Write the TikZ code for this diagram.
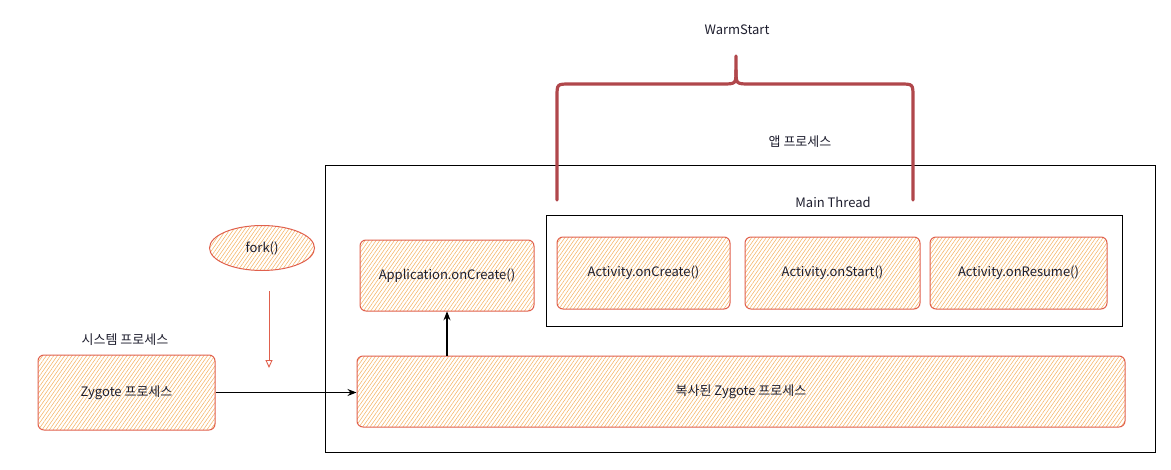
\documentclass[tikz,border=0pt]{standalone}
\usepackage{fontspec}
\setmainfont{Noto Sans CJK KR}
\usepackage{xcolor}
\usepackage{tikz}
\usetikzlibrary{arrows.meta,patterns.meta,shapes.geometric,positioning,calc}

\definecolor{boxred}{HTML}{E0604D}
\definecolor{hatch}{HTML}{F5B465}
\definecolor{bracered}{HTML}{B0474B}
\definecolor{inkblue}{HTML}{1E1E2E}

\begin{document}
\begin{tikzpicture}[
            x=1pt, y=-1pt,
            every node/.style={font=\fontsize{13}{15}\selectfont, text=inkblue},
            proc/.style={draw=boxred, line width=1pt, rounded corners=6pt,
                pattern={Lines[angle=55,distance=3pt,line width=0.55pt]}, pattern color=hatch},
            frame/.style={draw=black, line width=1pt},
            flow/.style={->, >={Stealth[length=9pt,width=7pt]}, line width=1.1pt, black},
        ]
            \useasboundingbox (0,0) rectangle (1171,469);

            % app process + main thread frames
            \node[frame, minimum width=830, minimum height=287] (app) at (740,308.5) {};
            \node (applbl) at (800,142) {앱 프로세스};
            \node[frame, minimum width=576, minimum height=111] (main) at (834,270.5) {};
            \node (mainlbl) at (833,202) {Main Thread};

            % boxes
            \node[proc, minimum width=174, minimum height=71] (appcreate) at (447,275.5) {Application.onCreate()};
            \node[proc, minimum width=173, minimum height=72] (actcreate) at (643.5,273) {Activity.onCreate()};
            \node[proc, minimum width=175, minimum height=72] (actstart) at (832.5,273) {Activity.onStart()};
            \node[proc, minimum width=177, minimum height=72] (actresume) at (1018.5,273) {Activity.onResume()};
            \node[proc, minimum width=768, minimum height=71] (copy) at (741,391.5) {복사된 Zygote 프로세스};
            \node[proc, minimum width=177, minimum height=75] (zygote) at (126.5,392.5) {Zygote 프로세스};
            \node (syslbl) at (125,340) {시스템 프로세스};
            \node[proc, ellipse, minimum width=105, minimum height=45, rounded corners=0pt, inner sep=1pt] (fork) at (262,248) {fork()};

            % arrows
            \coordinate (forkend) at (269,368);
            \draw[->, >={Triangle[open,length=8pt,width=7pt]}, draw=boxred, line width=0.9pt]
                (fork.south -| forkend) ++(0,20) -- (forkend);
            \draw[flow] (zygote.east) -- (copy.west |- zygote.east);
            \draw[flow] (appcreate.south |- copy.north) -- (appcreate.south);

            % warm start brace
            \draw[bracered, line width=3.2pt, line cap=round]
                (557,200) -- (557,97) .. controls (557,84) .. (570,84) -- (722,84)
                .. controls (736,84) .. (736,70) -- (736,56);
            \draw[bracered, line width=3.2pt, line cap=round]
                (913,200) -- (913,97) .. controls (913,84) .. (900,84) -- (750,84)
                .. controls (736,84) .. (736,70);
            \node (warm) at (737,30) {WarmStart};
        \end{tikzpicture}
\end{document}
